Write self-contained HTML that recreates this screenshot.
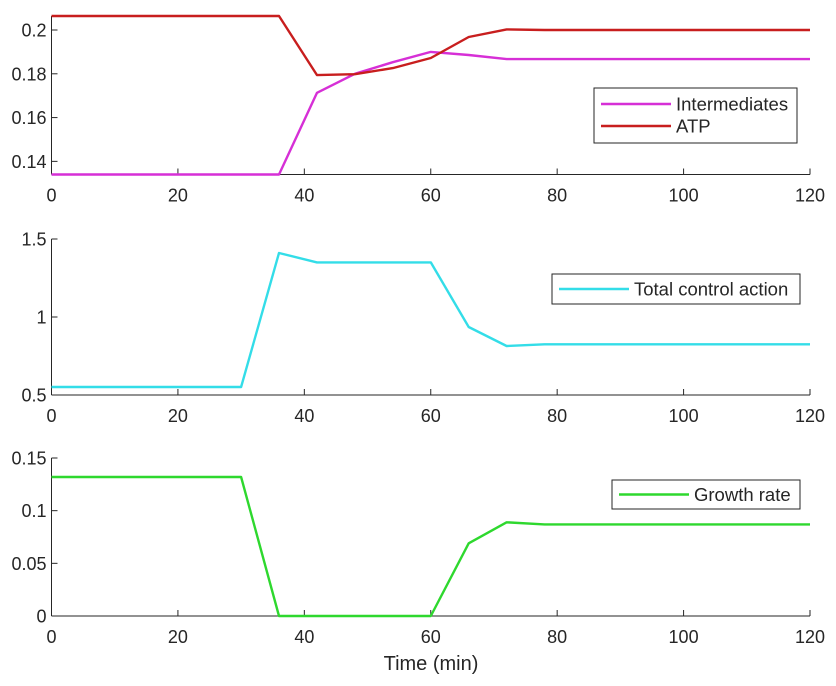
<!DOCTYPE html>
<html><head><meta charset="utf-8"><style>
body{margin:0;background:#fff;}
svg text{font-family:"Liberation Sans",Arial,sans-serif;fill:#262626;}
</style></head><body>
<svg id="chart" width="836" height="681"></svg>
<script>
const times=[0,6,12,18,24,30,36,42,48,54,60,66,72,78,84,90,96,102,108,114,120];
const intermediates=[0.134,0.134,0.134,0.134,0.134,0.134,0.134,0.1713,0.180,0.1853,0.190,0.1886,0.1867,0.1867,0.1867,0.1867,0.1867,0.1867,0.1867,0.1867,0.1867];
const atp=[0.2064,0.2064,0.2064,0.2064,0.2064,0.2064,0.2064,0.1794,0.1798,0.1826,0.1872,0.1968,0.2003,0.200,0.200,0.200,0.200,0.200,0.200,0.200,0.200];
const control=[0.551,0.551,0.551,0.551,0.551,0.551,1.41,1.35,1.35,1.35,1.35,0.936,0.814,0.825,0.825,0.825,0.825,0.825,0.825,0.825,0.825];
const growth=[0.132,0.132,0.132,0.132,0.132,0.132,0,0,0,0,0,0.069,0.089,0.087,0.087,0.087,0.087,0.087,0.087,0.087,0.087];
const xTicks=[0,20,40,60,80,100,120];
const yTicks1=[0.14,0.16,0.18,0.2];
const yTicks2=[0.5,1,1.5];
const yTicks3=[0,0.05,0.1,0.15];

const svg=document.getElementById('chart');
const NS='http://www.w3.org/2000/svg';
function mk(tag,attrs,parent){const e=document.createElementNS(NS,tag);for(const k in attrs)e.setAttribute(k,attrs[k]);(parent||svg).appendChild(e);return e;}
const X0=51.5,X1=810;
function sx(t){return X0+(t-0)/(120-0)*(X1-X0);}

function panel(name,top,bottom,ymin,ymax,yTicks,series,legend){
  const g=mk('g',{});
  
  
  const sy=v=>bottom-(v-ymin)/(ymax-ymin)*(bottom-top);
  const yAxis=mk('line',{x1:X0,y1:top,x2:X0,y2:bottom,stroke:'#262626','stroke-width':1},g);
  
  
  const xAxis=mk('line',{x1:X0,y1:bottom,x2:X1,y2:bottom,stroke:'#262626','stroke-width':1},g);
  
  
  xTicks.forEach(t=>{
    mk('line',{x1:sx(t),y1:bottom,x2:sx(t),y2:bottom-6,stroke:'#262626'},g);
    const tx=mk('text',{x:sx(t),y:bottom+27,'text-anchor':'middle','font-size':18},g);
    tx.textContent=t;
    
    
  });
  yTicks.forEach(v=>{
    mk('line',{x1:X0,y1:sy(v),x2:X0+6,y2:sy(v),stroke:'#262626'},g);
    const tx=mk('text',{x:X0-5,y:sy(v)+6.5,'text-anchor':'end','font-size':18},g);
    tx.textContent=String(v);
    
    
  });
  series.forEach(s=>{
    const pts=times.map((t,i)=>sx(t).toFixed(1)+','+sy(s.vals[i]).toFixed(1)).join(' ');
    const pl=mk('polyline',{points:pts,fill:'none',stroke:s.color,'stroke-width':2.4,'stroke-linejoin':'round'},g);
    
    
  });
  const lg=mk('g',{},g);
  
  
  mk('rect',{x:legend.x,y:legend.y,width:legend.w,height:legend.h,fill:'#fff',stroke:'#262626','stroke-width':1},lg);
  series.forEach((s,i)=>{
    const ey=legend.y+legend.pad+i*22;
    mk('line',{x1:legend.x+7,y1:ey,x2:legend.x+77,y2:ey,stroke:s.color,'stroke-width':2.4},lg);
    const tx=mk('text',{x:legend.x+82,y:ey+6.5,'font-size':18.5},lg);
    tx.textContent=s.label;
    
    
  });
}
panel('panel-intermediates-atp',16,174.5,0.134,0.2064,yTicks1,
  [{name:'intermediates-line',label:'Intermediates',color:'#d62fd6',vals:intermediates},
   {name:'atp-line',label:'ATP',color:'#c81e1e',vals:atp}],
  {x:594,y:88,w:203,h:55,pad:16});
panel('panel-control',239,395,0.5,1.5,yTicks2,
  [{name:'control-line',label:'Total control action',color:'#33dde8',vals:control}],
  {x:552,y:274,w:248,h:30,pad:15});
panel('panel-growth',458,616,0,0.15,yTicks3,
  [{name:'growth-line',label:'Growth rate',color:'#2ed82e',vals:growth}],
  {x:612,y:480,w:188,h:29,pad:14.5});
const xl=mk('text',{x:431,y:670,'text-anchor':'middle','font-size':20});
xl.textContent='Time (min)';


</script>
</body></html>
